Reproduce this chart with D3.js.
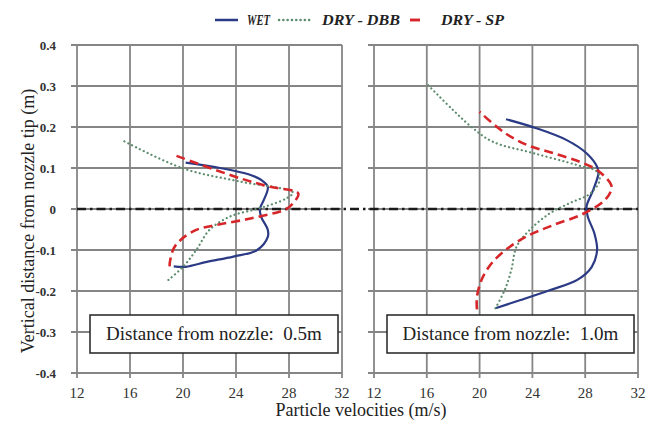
<!DOCTYPE html>
<html>
<head>
<meta charset="utf-8">
<script src="https://cdn.jsdelivr.net/npm/d3@7"></script>
<style>
body { margin: 0; background: #fff; }
</style>
</head>
<body>
<svg width="660" height="428"></svg>
<script>
// velocity (m/s), vertical distance (m) pairs
var wetNear = [[19.3, -0.14], [20.2, -0.141], [21.8, -0.129], [23.8, -0.116], [25.6, -0.1], [26.4, -0.068], [26.4, -0.051], [25.9, -0.019], [25.8, 0.0], [26.1, 0.022], [26.4, 0.054], [25.9, 0.071], [25.1, 0.083], [22.8, 0.1], [20.2, 0.113]];
var dbbNear = [[18.9, -0.173], [20.0, -0.141], [21.0, -0.1], [22.0, -0.051], [23.5, -0.019], [25.3, -0.002], [26.6, 0.01], [27.8, 0.026], [28.3, 0.04], [24.3, 0.067], [20.0, 0.099], [15.4, 0.168]];
var spNear = [[19.0, -0.14], [19.0, -0.132], [19.3, -0.096], [19.8, -0.076], [21.0, -0.051], [22.5, -0.039], [25.1, -0.023], [27.8, 0.0], [28.3, 0.014], [28.7, 0.038], [26.6, 0.054], [24.3, 0.075], [19.3, 0.132]];

var wetFar = [[21.2, -0.242], [23.1, -0.222], [25.3, -0.198], [27.4, -0.173], [28.5, -0.141], [28.9, -0.1], [28.7, -0.06], [28.2, -0.019], [28.1, 0.006], [28.6, 0.046], [29.0, 0.087], [28.9, 0.103], [28.1, 0.136], [26.6, 0.168], [24.3, 0.197], [22.0, 0.219]];
var dbbFar = [[21.2, -0.242], [21.9, -0.198], [22.4, -0.149], [22.8, -0.092], [23.8, -0.051], [25.3, -0.011], [26.8, 0.014], [28.4, 0.038], [29.1, 0.071], [28.9, 0.091], [27.4, 0.107], [24.1, 0.136], [21.0, 0.164], [19.5, 0.197], [18.0, 0.241], [16.1, 0.302]];
var spFar = [[19.8, -0.245], [19.8, -0.214], [20.2, -0.169], [21.0, -0.129], [22.3, -0.092], [23.8, -0.063], [25.6, -0.039], [27.9, -0.011], [29.5, 0.022], [30.0, 0.05], [29.9, 0.063], [28.9, 0.095], [27.6, 0.115], [25.6, 0.136], [23.6, 0.156], [21.8, 0.188], [20.0, 0.237]];

var seriesNames = ["WET", "DRY - DBB", "DRY - SP"];
var panelLabels = ["Distance from nozzle:  0.5m", "Distance from nozzle:  1.0m"];
var xTicks = [12, 16, 20, 24, 28, 32];
var yTicks = [0.4, 0.3, 0.2, 0.1, 0, -0.1, -0.2, -0.3, -0.4];

var serif = "'Liberation Serif', 'Times New Roman', Times, 'DejaVu Serif', serif";
var svg = d3.select("svg").attr("font-family", serif);
var gridColor = "#858585";

var styles = [
    {color: "#2b3a84", width: 2.2, dash: null, cap: "butt"},
    {color: "#5d8c6c", width: 2.2, dash: "0.1,4.2", cap: "round"},
    {color: "#d6262a", width: 2.6, dash: "9,5", cap: "butt"}
];

var panels = [
    {x0: 77, x1: 342, series: [wetNear, dbbNear, spNear], label: panelLabels[0], labels: true},
    {x0: 374, x1: 638, series: [wetFar, dbbFar, spFar], label: panelLabels[1], labels: false}
];

var y = d3.scaleLinear().domain([-0.4, 0.4]).range([373, 45]);

panels.forEach(function (p) {
    var x = d3.scaleLinear().domain([12, 32]).range([p.x0, p.x1]);
    p.x = x;
    var g = svg.append("g");

    // grid
    g.selectAll(".vg").data(xTicks).enter().append("line")
        .attr("x1", function (d) { return x(d); }).attr("x2", function (d) { return x(d); })
        .attr("y1", y(0.4)).attr("y2", y(-0.4) + 5)
        .attr("stroke", gridColor).attr("stroke-width", 1.8);
    g.selectAll(".hg").data(yTicks).enter().append("line")
        .attr("x1", p.x0 - 6).attr("x2", p.x1)
        .attr("y1", function (d) { return y(d); }).attr("y2", function (d) { return y(d); })
        .attr("stroke", gridColor).attr("stroke-width", 1.8);

    // x tick labels
    g.selectAll(".xt").data(xTicks).enter().append("text")
        .attr("x", function (d) { return x(d); })
        .attr("y", 398)
        .attr("text-anchor", "middle")
        .attr("font-family", serif)
        .attr("font-size", 15)
        .attr("fill", "#333")
        .text(function (d) { return d; });

    if (p.labels) {
        g.selectAll(".yt").data(yTicks).enter().append("text")
            .attr("x", 56)
            .attr("y", function (d) { return y(d) + 4.5; })
            .attr("text-anchor", "end")
            .attr("font-family", serif)
            .attr("font-size", 13)
            .attr("font-weight", "bold")
            .attr("fill", "#333")
            .text(function (d) { return d; });
    }
});

// zero line across both panels
svg.append("line")
    .attr("x1", panels[0].x(12)).attr("x2", panels[1].x(32))
    .attr("y1", y(0)).attr("y2", y(0))
    .attr("stroke", "#1a1a1a").attr("stroke-width", 2.6)
    .attr("stroke-dasharray", "9,4,2.5,4");

// curves
panels.forEach(function (p) {
    var line = d3.line()
        .x(function (d) { return p.x(d[0]); })
        .y(function (d) { return y(d[1]); })
        .curve(d3.curveCatmullRom.alpha(0.5));
    p.series.forEach(function (s, i) {
        var st = styles[i];
        svg.append("path")
            .datum(s)
            .attr("d", line)
            .attr("fill", "none")
            .attr("stroke", st.color)
            .attr("stroke-width", st.width)
            .attr("stroke-linecap", st.cap)
            .attr("stroke-dasharray", st.dash);
    });

    // label box
    var bx = p.x0 + 13, bw = p.x1 - p.x0 - 17;
    svg.append("rect")
        .attr("x", bx).attr("y", 315)
        .attr("width", bw).attr("height", 38)
        .attr("fill", "#fff").attr("stroke", "#222").attr("stroke-width", 1.5);
    svg.append("text")
        .attr("x", bx + bw / 2).attr("y", 340)
        .attr("text-anchor", "middle")
        .attr("font-family", serif)
        .attr("font-size", 19)
        .attr("fill", "#222")
        .style("white-space", "pre")
        .text(p.label);
});

// axis titles
svg.append("text")
    .attr("x", 361).attr("y", 416)
    .attr("text-anchor", "middle")
    .attr("font-family", serif)
    .attr("font-size", 18)
    .attr("fill", "#222")
    .text("Particle velocities (m/s)");

svg.append("text")
    .attr("transform", "translate(34,221) rotate(-90)")
    .attr("text-anchor", "middle")
    .attr("font-family", serif)
    .attr("font-size", 18)
    .attr("fill", "#222")
    .text("Vertical distance from nozzle tip (m)");

// legend
var legendItems = [
    {x0: 215, x1: 238, tx: 247, tw: 23},
    {x0: 279, x1: 312, tx: 322, tw: 78},
    {x0: 410, x1: 420, tx: 441, tw: 63}
];
var lg = svg.append("g");
legendItems.forEach(function (it, i) {
    var st = styles[i];
    lg.append("line")
        .attr("x1", it.x0).attr("x2", it.x1)
        .attr("y1", 20).attr("y2", 20)
        .attr("stroke", st.color)
        .attr("stroke-width", st.width + 0.3)
        .attr("stroke-linecap", st.cap)
        .attr("stroke-dasharray", i === 1 ? st.dash : null);
    lg.append("text")
        .attr("x", it.tx).attr("y", 25)
        .attr("textLength", it.tw)
        .attr("lengthAdjust", "spacingAndGlyphs")
        .attr("font-family", serif)
        .attr("font-size", 15)
        .attr("font-weight", "bold")
        .attr("font-style", "italic")
        .attr("fill", "#222")
        .style("white-space", "pre")
        .text(seriesNames[i]);
});
</script>
</body>
</html>
